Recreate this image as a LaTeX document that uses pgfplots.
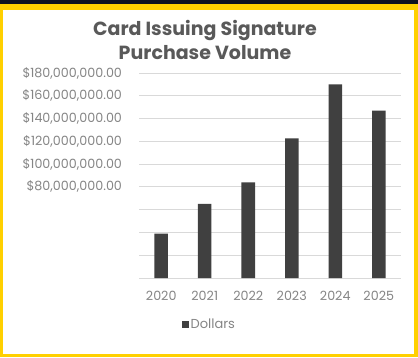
\documentclass[border=0pt]{standalone}
\usepackage{pgfplots}
\pgfplotsset{compat=1.18}
\usepackage{fontspec}
\setmainfont{Poppins}
\definecolor{topdark}{HTML}{0E1220}
\definecolor{frameyellow}{HTML}{FFD000}
\definecolor{bargray}{HTML}{404040}
\definecolor{gridgray}{HTML}{D9D9D9}
\definecolor{ticktext}{HTML}{858585}
\definecolor{titletext}{HTML}{595959}
\begin{document}
\begin{tikzpicture}
\useasboundingbox (0pt,0pt) rectangle (418pt,357pt);
\fill[topdark] (0pt,0pt) rectangle (418pt,357pt);
\fill[frameyellow] (0pt,0pt) rectangle (418pt,353pt);
\fill[white] (3pt,3pt) rectangle (414pt,347pt);
\node[font=\bfseries\fontsize{19}{24}\selectfont, text=titletext, align=center] at (205pt,317pt) {Card Issuing Signature\\Purchase Volume};
\begin{axis}[
  at={(139.5pt,79pt)}, anchor=south west,
  scale only axis, width=261pt, height=205pt,
  ymin=0, ymax=180e6,
  xmin=-0.5, xmax=5.5,
  scaled y ticks=false,
  ybar, bar width=13.5pt,
  xtick=data, xticklabels={2020,2021,2022,2023,2024,2025},
  ytick={0,20e6,40e6,60e6,80e6,100e6,120e6,140e6,160e6,180e6},
  yticklabels={,,,,{\$80,000,000.00},{\$100,000,000.00},{\$120,000,000.00},{\$140,000,000.00},{\$160,000,000.00},{\$180,000,000.00}},
  ymajorgrids, grid style={gridgray, line width=0.8pt},
  axis line style={draw=none},
  major tick style={draw=none},
  ticklabel style={font=\fontsize{12.7}{14}\selectfont, text=ticktext},
  yticklabel style={xshift=-14pt},
  xticklabel style={yshift=-5pt},
  legend style={draw=none, fill=none, at={(0.268,-0.225)}, anchor=center, font=\fontsize{13}{15}\selectfont, text=ticktext},
  legend image code/.code={\fill[bargray] (0cm,-0.12cm) rectangle (0.24cm,0.12cm);},
]
\addplot[fill=bargray, draw=none] coordinates {(0,39e6) (1,65e6) (2,84e6) (3,122.5e6) (4,170e6) (5,147e6)};
\addlegendentry{Dollars}
\end{axis}
\end{tikzpicture}
\end{document}
